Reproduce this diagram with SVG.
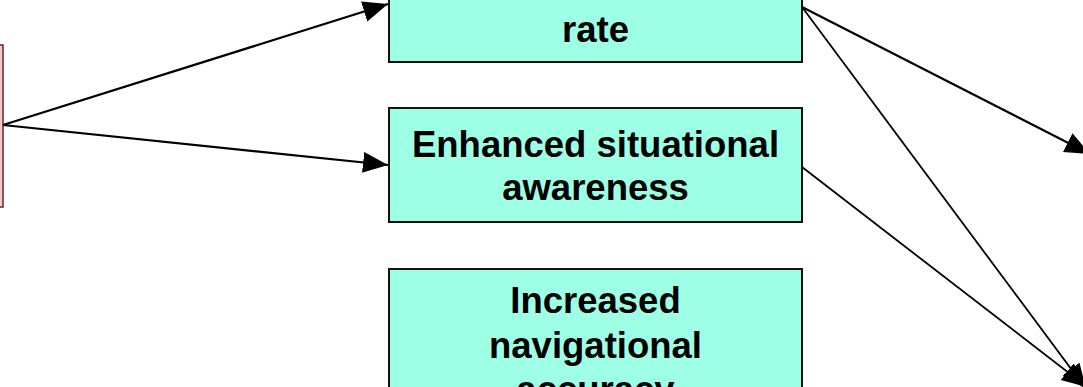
<svg xmlns="http://www.w3.org/2000/svg" width="1083" height="387" viewBox="0 0 1083 387">
  <style>
    .box { fill: #9dffe3; stroke: #111; stroke-width: 2; }
    .src { fill: #f3c9c9; stroke: #6e2424; stroke-width: 1.5; }
    .lbl { font-family: "Liberation Sans", Arial, sans-serif; font-weight: bold; font-size: 36.5px; fill: #000; text-anchor: middle; }
    .link { fill: none; stroke: #000; stroke-width: 2.2; }
    .thin { stroke-width: 1.8; }
  </style>
  <defs>
    <marker id="head" markerUnits="userSpaceOnUse" markerWidth="26" markerHeight="22" refX="25" refY="10.5" orient="auto">
      <path d="M0,0 L25,10.5 L0,21 z" fill="#000"/>
    </marker>
  </defs>

  <!-- source node, mostly off the left edge -->
  <g id="node-source">
    <rect class="src" x="-200" y="45" width="203" height="162"/>
  </g>

  <g id="node-rate">
    <rect class="box" x="389" y="-60" width="413" height="122"/>
    <text class="lbl" x="595.5" y="42">rate</text>
  </g>

  <g id="node-awareness">
    <rect class="box" x="389" y="108" width="413" height="114"/>
    <text class="lbl" x="595.5" y="157">Enhanced situational</text>
    <text class="lbl" x="595.5" y="200">awareness</text>
  </g>

  <g id="node-accuracy">
    <rect class="box" x="389" y="269" width="413" height="160"/>
    <text class="lbl" x="595.5" y="313">Increased</text>
    <text class="lbl" x="595.5" y="358">navigational</text>
    <text class="lbl" x="595.5" y="402">accuracy</text>
  </g>

  <g id="connectors">
    <line class="link" x1="3" y1="125" x2="388" y2="4" marker-end="url(#head)"/>
    <line class="link" x1="3" y1="125" x2="388" y2="165" marker-end="url(#head)"/>
    <line class="link" x1="802" y1="7" x2="1090" y2="154" marker-end="url(#head)"/>
    <line class="link thin" x1="802" y1="7" x2="1086" y2="389" marker-end="url(#head)"/>
    <line class="link thin" x1="802" y1="167" x2="1087" y2="387" marker-end="url(#head)"/>
  </g>
</svg>
